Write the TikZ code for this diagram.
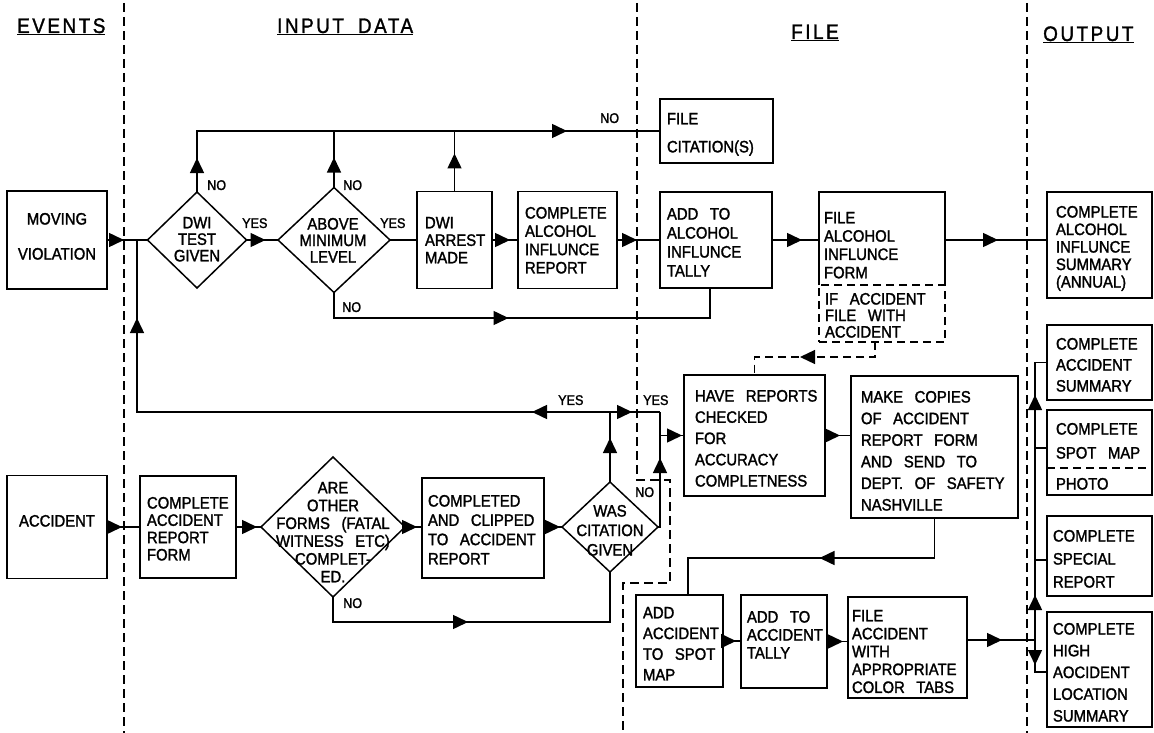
\documentclass[tikz,border=0pt]{standalone}
\usepackage{fontspec}
\setmainfont[FakeStretch=0.9,FakeBold=1.6]{Liberation Sans}
\newfontfamily\hdrfont[FakeStretch=0.9,FakeBold=1.4,LetterSpace=12]{Liberation Sans}
\usetikzlibrary{shapes.geometric,arrows.meta,decorations.markings}
\hyphenpenalty=10000
\newcommand\txtfs[1]{\fontsize{16.5}{#1}\selectfont\spaceskip=0.7em\relax}
\newcommand\lblfs{\fontsize{14}{16}\selectfont}
\newcommand\hdrfs{\hdrfont\fontsize{21}{25}\selectfont}
\tikzset{
  ln/.style={line width=1.5pt},
  dln/.style={line width=1.3pt, dash pattern=on 8pt off 5pt},
  sepl/.style={line width=1.3pt, dash pattern=on 9pt off 5pt},
  box/.style={draw, line width=1.5pt, inner sep=0pt, outer sep=0pt},
  dia/.style={draw, diamond, line width=1.5pt, inner sep=0pt, outer sep=0pt},
  txt/.style={inner sep=0pt, outer sep=0pt, anchor=north west, align=left, font=\txtfs{#1}},
  ctxt/.style={inner sep=0pt, outer sep=0pt, anchor=north, align=center, font=\txtfs{#1}},
  lbl/.style={inner sep=0pt, anchor=north west, font=\lblfs},
  hdr/.style={inner sep=0pt, anchor=base west, font=\hdrfs},
  ar/.style={postaction={decorate}, decoration={markings, mark=at position #1 with {\arrow{Triangle[length=15pt,width=14pt]}}}},
  artwo/.style 2 args={postaction={decorate}, decoration={markings,
     mark=at position #1 with {\arrow{Triangle[length=15pt,width=14pt]}},
     mark=at position #2 with {\arrow{Triangle[length=15pt,width=14pt]}}}},
}
\begin{document}
\begin{tikzpicture}[x=1pt,y=-1pt]
\useasboundingbox (0,0) rectangle (1154,733);
% column separators
\draw[sepl] (124,3) -- (124,733);
\draw[sepl] (637,3) -- (637,480) -- (670,480) -- (670,583) -- (623,583) -- (623,733);
\draw[sepl] (1027,3) -- (1027,733);
% headers
\node[hdr] (hev) at (17,33) {\underline{EVENTS}};
\node[hdr] (hin) at (277,33) {\underline{INPUT\hspace{14pt}DATA}};
\node[hdr] (hfi) at (791,39) {\underline{FILE}};
\node[hdr] (hou) at (1043,41) {\underline{OUTPUT}};
% boxes
\node[box, minimum width=100pt, minimum height=98pt] (mv) at (57,240) {};
\node[box, minimum width=100pt, minimum height=103pt] (acc) at (57,527) {};
\node[box, minimum width=75pt, minimum height=97pt] (arrest) at (454.5,240) {};
\node[box, minimum width=99pt, minimum height=97pt] (car) at (567.5,240) {};
\node[box, minimum width=113pt, minimum height=64pt] (fc) at (716.5,131) {};
\node[box, minimum width=112pt, minimum height=96pt] (tally) at (716,240) {};
\node[inner sep=0pt, outer sep=0pt, minimum width=126pt, minimum height=93pt] (faf) at (882,238.5) {};
\draw[ln] (faf.south west) |- (faf.north east) -- (faf.south east);
\node[box, line width=1.3pt, dash pattern=on 8pt off 5pt, minimum width=126pt, minimum height=57pt] (ifacc) at (882,313.5) {};
\node[box, minimum width=105pt, minimum height=106pt] (fais) at (1099.5,245) {};
\node[box, minimum width=141pt, minimum height=121pt] (hrc) at (754.5,435.5) {};
\node[box, minimum width=167pt, minimum height=142pt] (mc) at (934.5,447) {};
\node[box, minimum width=87pt, minimum height=92pt] (casp) at (679.5,641) {};
\node[box, minimum width=86pt, minimum height=93pt] (aat) at (784,641.5) {};
\node[box, minimum width=119pt, minimum height=101pt] (fa) at (907.5,647.5) {};
\node[box, minimum width=105pt, minimum height=75pt] (cas) at (1099.5,362.5) {};
\node[box, minimum width=105pt, minimum height=85pt] (csm) at (1099.5,452.5) {};
\coordinate (pd) at (1040,468);
\draw[dln] (pd -| csm.west) -- (pd -| csm.east);
\node[box, minimum width=105pt, minimum height=80pt] (csr) at (1099.5,556) {};
\node[box, minimum width=105pt, minimum height=115pt] (chal) at (1099.5,669.5) {};
\node[box, minimum width=96pt, minimum height=102pt] (carf) at (188,527) {};
\node[box, minimum width=122pt, minimum height=100pt] (cc) at (483,528) {};
% diamonds
\node[dia, minimum width=99pt, minimum height=96pt] (d1) at (197,240) {};
\node[dia, minimum width=112pt, minimum height=105pt] (d2) at (334,240) {};
\node[dia, minimum width=144pt, minimum height=140pt] (d3) at (333,527) {};
\node[dia, minimum width=96pt, minimum height=90pt] (d4) at (610,527) {};
% texts
\node[ctxt=35] (mvt) at (57,213) {MOVING\\VIOLATION};
\node[ctxt=18] (acct) at (57,515) {ACCIDENT};
\node[ctxt=16.5] (d1t) at (197,217) {DWI\\TEST\\GIVEN};
\node[ctxt=16.5] (d2t) at (333,218) {ABOVE\\MINIMUM\\LEVEL};
\node[txt=17.5] (arrt) at (425,217) {DWI\\ARREST\\MADE};
\node[txt=18.3] (cart) at (525,207) {COMPLETE\\ALCOHOL\\INFLUNCE\\REPORT};
\node[txt=28] (fct) at (667,113) {FILE\\CITATION(S)};
\node[txt=19] (tallyt) at (667,208) {ADD TO\\ALCOHOL\\INFLUNCE\\TALLY};
\node[txt=18.3] (faft) at (824,212) {FILE\\ALCOHOL\\INFLUNCE\\FORM};
\node[txt=16.5] (ifacct) at (825,293) {IF ACCIDENT\\FILE WITH\\ACCIDENT};
\node[txt=17.5] (faist) at (1056,206) {COMPLETE\\ALCOHOL\\INFLUNCE\\SUMMARY\\(ANNUAL)};
\node[txt=21.25] (hrct) at (695,390) {HAVE REPORTS\\CHECKED\\FOR\\ACCURACY\\COMPLETNESS};
\node[txt=21.6] (mct) at (861,391) {MAKE COPIES\\OF ACCIDENT\\REPORT FORM\\AND SEND TO\\DEPT. OF SAFETY\\NASHVILLE};
\node[txt=20.7] (caspt) at (643,607) {ADD\\ACCIDENT\\TO SPOT\\MAP};
\node[txt=18] (aatt) at (747,611) {ADD TO\\ACCIDENT\\TALLY};
\node[txt=17.9] (fat) at (852,610) {FILE\\ACCIDENT\\WITH\\APPROPRIATE\\COLOR TABS};
\node[txt=21] (cast) at (1056,338) {COMPLETE\\ACCIDENT\\SUMMARY};
\node[txt=24] (csmt) at (1056,423) {COMPLETE\\SPOT MAP};
\node[txt=18] (photo) at (1056,478) {PHOTO};
\node[txt=23] (csrt) at (1053,530) {COMPLETE\\SPECIAL\\REPORT};
\node[txt=21.75] (chalt) at (1053,623) {COMPLETE\\HIGH\\AOCIDENT\\LOCATION\\SUMMARY};
\node[txt=17.3] (carft) at (147,497) {COMPLETE\\ACCIDENT\\REPORT\\FORM};
\node[ctxt=17.8] (d3t) at (333,482) {ARE\\OTHER\\FORMS (FATAL\\WITNESS ETC)\\COMPLET-\\ED.};
\node[txt=19.3] (cct) at (428,495) {COMPLETED\\AND CLIPPED\\TO ACCIDENT\\REPORT};
\node[ctxt=19.5] (d4t) at (610,505) {WAS\\CITATION\\GIVEN};
% labels
\node[lbl] (l1) at (207,180) {NO};
\node[lbl] (l2) at (242,218) {YES};
\node[lbl] (l3) at (343,180) {NO};
\node[lbl] (l4) at (380,218) {YES};
\node[lbl] (l5) at (600,113) {NO};
\node[lbl] (l6) at (342,302) {NO};
\node[lbl] (l7) at (558,395) {YES};
\node[lbl] (l8) at (643,395) {YES};
\node[lbl] (l9) at (635,487) {NO};
\node[lbl] (l10) at (343,598) {NO};
% connectors - alcohol row
\draw[ln, ar=17pt] (mv.east) -- (d1.west);
\draw[ln, ar=19pt] (d1.east) -- (d2.west);
\draw[ln] (d2.east) -- (arrest.west);
\draw[ln, ar=18pt] (arrest.east) -- (car.west);
\draw[ln, ar=20pt] (car.east) -- (tally.west);
\draw[ln, ar=30pt] (tally.east) -- (tally.east -| faf.west);
\draw[ln, ar=53pt] (tally.east -| faf.east) -- (tally.east -| fais.west);
% top NO line
\draw[ln, artwo={34pt}{431pt}] (d1.north) |- (fc.west);
\draw[ln, ar=30pt] (d2.north) -- (d2.north |- fc.west);
\draw[ln, ar=38pt] (arrest.north) -- (arrest.north |- fc.west);
% NO below minimum level
\coordinate (nt) at (710,318);
\draw[ln, ar=200pt] (d2.south) |- (nt) -- (nt |- tally.south);
% YES loop
\coordinate (yj) at (610,412);
\coordinate (mj) at (137,240);
\coordinate (yr) at (660,412);
\draw[ln, ar=44pt] (d4.north) -- (yj);
\draw[ln, artwo={78pt}{567pt}] (yj) -| (mj);
\draw[ln, ar=22pt] (yj) -- (yr);
\draw[ln, ar=71pt] (d4.east) -| (yr);
\draw[ln, ar=22pt] (yr |- hrc.west) -- (hrc.west);
% dashed from alcohol form to reports check
\coordinate (db) at (875,357);
\draw[dln, ar=90pt] (db |- ifacc.south) -- (db) -| (hrc.north);
% accident chain
\draw[ln, ar=15pt] (hrc.east) -- (hrc.east -| mc.west);
\coordinate (cb) at (688,558);
\draw[ln, ar=155pt] (mc.south) |- (cb) -- (cb |- casp.north);
\draw[ln, ar=13pt] (casp.east) -- (casp.east -| aat.west);
\draw[ln, ar=16pt] (aat.east) -- (aat.east -| fa.west);
\coordinate (bj) at (1035,640);
\draw[ln, ar=35pt] (bj -| fa.east) -- (bj);
\draw[ln, artwo={45pt}{245pt}] (bj) -- (bj |- cas.west) -- (cas.west);
\coordinate (bb) at (1035,672);
\draw[ln, ar=25pt] (bj) -- (bb) -- (bb -| chal.west);
\coordinate (bs) at (1035,448);
\draw[ln] (bs) -- (bs -| csm.west);
\coordinate (bc) at (1035,560);
\draw[ln] (bc) -- (bc -| csr.west);
% bottom row
\draw[ln, ar=15pt] (acc.east) -- (acc.east -| carf.west);
\draw[ln, ar=21pt] (carf.east) -- (d3.west);
\draw[ln, ar=12pt] (d3.east) -- (d3.east -| cc.west);
\draw[ln, ar=16pt] (cc.east |- d4.west) -- (d4.west);
\coordinate (nb) at (610,622);
\draw[ln, ar=160pt] (d3.south) |- (nb) -- (d4.south);
\end{tikzpicture}
\end{document}
